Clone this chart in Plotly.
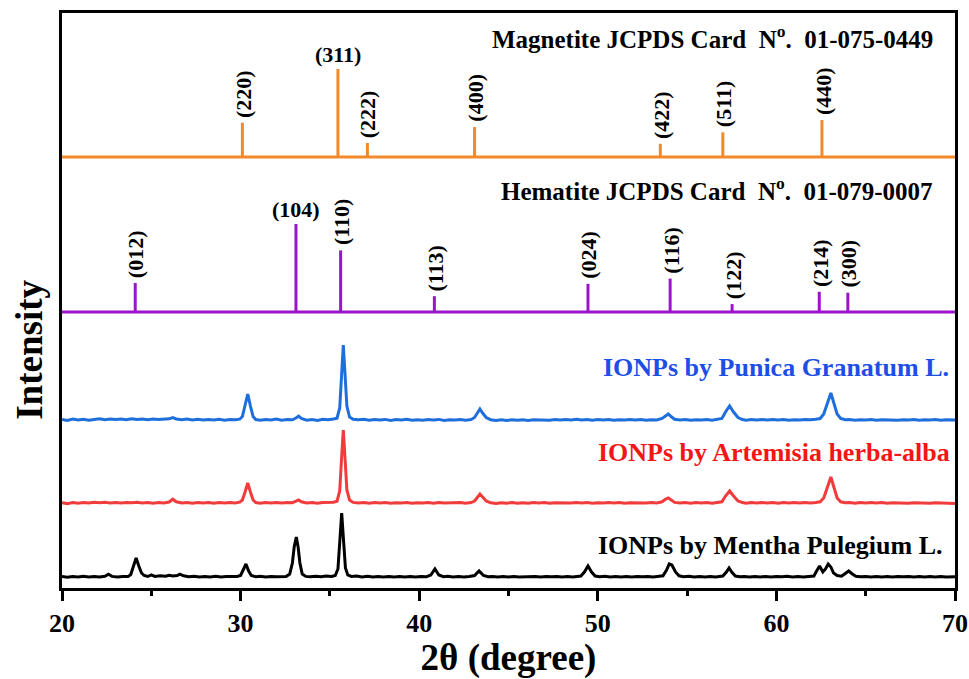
import plotly.graph_objects as go

# ---------------- data ----------------
# Reference cards (2-theta in degrees, relative intensity in %)
mag_2theta = [30.1, 35.45, 37.1, 43.1, 53.5, 57.0, 62.55]
mag_int = [39, 100, 16, 34, 15, 28, 42]
mag_hkl = ["(220)", "(311)", "(222)", "(400)", "(422)", "(511)", "(440)"]

hem_2theta = [24.1, 33.1, 35.6, 40.85, 49.45, 54.05, 57.52, 62.4, 64.0]
hem_int = [33, 100, 70, 18, 32, 38, 9, 23, 22]
hem_hkl = ["(012)", "(104)", "(110)", "(113)", "(024)", "(116)", "(122)", "(214)", "(300)"]

# Measured patterns (2-theta, intensity a.u. above each pattern's baseline)
punica_pts = [
    (20.0, 0.5), (20.3, -0.5), (20.6, 1.0), (20.9, 0.0), (21.2, 0.8), (21.5, -0.3), (21.8, 0.6),
    (22.1, 1.2), (22.4, 0.2), (22.7, 1.0), (23.0, 0.4), (23.3, 1.1), (23.6, 0.3), (23.9, 1.3),
    (24.2, 0.5), (24.5, 0.9), (24.8, 0.2), (25.1, 1.0), (25.4, 0.4), (25.7, 0.8), (26.0, 1.2),
    (26.2, 2.4), (26.4, 1.0), (26.7, 0.3), (27.0, 0.9), (27.3, 0.1), (27.6, 0.7), (27.9, 0.0),
    (28.2, 0.6), (28.5, 0.1), (28.8, 0.8), (29.1, -0.2), (29.4, 0.5), (29.7, 0.2), (29.95, 0.8),
    (30.1, 3.5), (30.25, 14), (30.4, 26), (30.55, 14), (30.7, 3.5), (30.85, 0.5), (31.1, -0.3),
    (31.4, 0.6), (31.7, 0.0), (32.0, 0.9), (32.3, -0.2), (32.6, 0.5), (32.9, 0.2), (33.1, 2.0),
    (33.25, 3.8), (33.4, 1.5), (33.7, -0.2), (34.0, 0.4), (34.3, -0.4), (34.6, 0.8), (34.9, 0.2),
    (35.2, 1.0), (35.4, 1.8), (35.55, 12), (35.65, 45), (35.75, 75), (35.85, 45), (35.95, 14),
    (36.1, 3.0), (36.3, 0.8), (36.6, 0.2), (36.9, 0.7), (37.2, -0.3), (37.5, 0.5), (37.8, 0.0),
    (38.1, 0.6), (38.4, -0.5), (38.7, 0.4), (39.0, 0.0), (39.3, 0.7), (39.6, -0.3), (39.9, 0.3),
    (40.2, -0.2), (40.5, 0.5), (40.8, 0.0), (41.1, 0.6), (41.4, -0.4), (41.7, 0.3), (42.0, -0.1),
    (42.3, 0.4), (42.6, -0.2), (42.9, 0.5), (43.1, 2.5), (43.25, 7), (43.4, 11), (43.55, 7),
    (43.75, 2.5), (44.0, 0.3), (44.3, -0.5), (44.6, 0.2), (44.9, -0.4), (45.2, 0.3), (45.5, -0.3),
    (45.8, 0.2), (46.1, -0.4), (46.4, 0.3), (46.7, 0.1), (47.0, 0.5), (47.3, -0.2), (47.6, 0.4),
    (47.9, 0.0), (48.2, 0.6), (48.5, 0.1), (48.8, 0.7), (49.1, 0.0), (49.4, 0.5), (49.7, -0.3),
    (50.0, 0.4), (50.3, 0.0), (50.6, 0.6), (50.9, -0.2), (51.2, 0.3), (51.5, -0.1), (51.8, 0.5),
    (52.1, 0.0), (52.4, 0.4), (52.7, -0.2), (53.0, 0.3), (53.3, 0.0), (53.6, 1.5), (53.8, 4.5),
    (53.95, 6), (54.1, 3.5), (54.3, 0.8), (54.6, 0.0), (54.9, 0.5), (55.2, -0.3), (55.5, 0.3),
    (55.8, 0.0), (56.1, 0.5), (56.4, -0.2), (56.7, 0.6), (56.95, 1.5), (57.15, 8), (57.38, 14),
    (57.6, 8), (57.85, 2.5), (58.1, 0.5), (58.3, -0.2), (58.6, 0.4), (58.9, 0.0), (59.2, 0.6),
    (59.5, -0.1), (59.8, 0.5), (60.1, 0.0), (60.4, 0.4), (60.7, -0.3), (61.0, 0.3), (61.3, 0.0),
    (61.6, 0.5), (61.9, 0.2), (62.2, 0.8), (62.45, 1.5), (62.65, 6), (62.88, 18), (63.05, 27),
    (63.2, 18), (63.4, 6), (63.6, 1.5), (63.85, 0.2), (64.1, 0.5), (64.4, -0.3), (64.7, 0.3),
    (65.0, 0.0), (65.3, 0.5), (65.6, -0.2), (65.9, 0.3), (66.2, 0.0), (66.5, 0.4), (66.8, -0.3),
    (67.1, 0.3), (67.4, 0.0), (67.7, 0.5), (68.0, -0.2), (68.3, 0.3), (68.6, -0.1), (68.9, 0.4),
    (69.2, -0.3), (69.5, 0.2), (69.8, -0.2), (70.0, 0.1),
]

artemisia_pts = [
    (20.0, 0.3), (20.3, -0.6), (20.6, 0.5), (20.9, -0.2), (21.2, 0.6), (21.5, 0.0), (21.8, 0.7),
    (22.1, 0.2), (22.4, 0.8), (22.7, 0.1), (23.0, 0.6), (23.3, 0.0), (23.6, 0.5), (23.9, 0.2),
    (24.2, 0.7), (24.5, 0.0), (24.8, 0.5), (25.1, -0.2), (25.4, 0.4), (25.7, 0.1), (26.0, 1.0),
    (26.2, 3.8), (26.4, 1.2), (26.7, 0.0), (27.0, 0.5), (27.3, -0.3), (27.6, 0.4), (27.9, 0.0),
    (28.2, 0.6), (28.5, -0.2), (28.8, 0.4), (29.1, 0.0), (29.4, 0.5), (29.7, 0.1), (29.95, 0.8),
    (30.1, 3.0), (30.25, 11), (30.4, 20), (30.55, 11), (30.7, 3.0), (30.85, 0.4), (31.1, -0.3),
    (31.4, 0.5), (31.7, -0.1), (32.0, 0.4), (32.3, 0.0), (32.6, 0.5), (32.9, 0.3), (33.1, 1.8),
    (33.25, 3.0), (33.4, 1.2), (33.7, 0.0), (34.0, 0.4), (34.3, -0.3), (34.6, 0.5), (34.9, 0.3),
    (35.2, 0.8), (35.4, 1.8), (35.55, 12), (35.65, 44), (35.75, 73), (35.85, 44), (35.95, 13),
    (36.1, 3.0), (36.3, 0.6), (36.6, 0.0), (36.9, 0.5), (37.2, -0.2), (37.5, 0.4), (37.8, -0.1),
    (38.1, 0.5), (38.4, -0.3), (38.7, 0.3), (39.0, 0.0), (39.3, 0.5), (39.6, -0.2), (39.9, 0.3),
    (40.2, 0.0), (40.5, 0.5), (40.8, -0.2), (41.1, 0.4), (41.4, -0.1), (41.7, 0.3), (42.0, 0.0),
    (42.3, 0.5), (42.6, -0.2), (42.9, 0.4), (43.1, 2.0), (43.25, 6), (43.4, 9), (43.55, 6),
    (43.75, 2.0), (44.0, 0.2), (44.3, -0.4), (44.6, 0.3), (44.9, -0.2), (45.2, 0.4), (45.5, -0.3),
    (45.8, 0.3), (46.1, -0.2), (46.4, 0.4), (46.7, 0.0), (47.0, 0.4), (47.3, -0.3), (47.6, 0.3),
    (47.9, 0.1), (48.2, 0.5), (48.5, -0.1), (48.8, 0.5), (49.1, 0.0), (49.4, 0.4), (49.7, -0.2),
    (50.0, 0.3), (50.3, -0.1), (50.6, 0.5), (50.9, 0.0), (51.2, 0.4), (51.5, -0.2), (51.8, 0.3),
    (52.1, 0.1), (52.4, 0.5), (52.7, -0.1), (53.0, 0.4), (53.3, 0.1), (53.6, 1.2), (53.8, 4.0),
    (53.95, 5), (54.1, 3.0), (54.3, 0.6), (54.6, -0.1), (54.9, 0.4), (55.2, -0.2), (55.5, 0.4),
    (55.8, 0.0), (56.1, 0.4), (56.4, -0.3), (56.7, 0.5), (56.95, 1.2), (57.15, 7), (57.38, 12),
    (57.6, 7), (57.85, 2.0), (58.1, 0.4), (58.3, -0.2), (58.6, 0.4), (58.9, -0.1), (59.2, 0.5),
    (59.5, 0.0), (59.8, 0.4), (60.1, -0.2), (60.4, 0.4), (60.7, 0.0), (61.0, 0.5), (61.3, -0.1),
    (61.6, 0.4), (61.9, 0.1), (62.2, 0.6), (62.45, 1.2), (62.65, 5), (62.88, 17), (63.05, 26),
    (63.2, 17), (63.4, 5), (63.6, 1.2), (63.85, 0.2), (64.1, 0.4), (64.4, -0.3), (64.7, 0.4),
    (65.0, -0.1), (65.3, 0.4), (65.6, 0.0), (65.9, 0.5), (66.2, -0.2), (66.5, 0.3), (66.8, 0.0),
    (67.1, 0.4), (67.4, -0.2), (67.7, 0.3), (68.0, 0.0), (68.3, 0.4), (68.6, -0.3), (68.9, 0.3),
    (69.2, 0.0), (69.5, 0.4), (69.8, -0.6), (70.0, -0.4),
]

mentha_pts = [
    (20.0, 0.4), (20.3, -0.3), (20.6, 0.6), (20.9, 0.0), (21.2, 0.7), (21.5, 0.1), (21.8, 0.5),
    (22.1, 0.0), (22.4, 0.8), (22.6, 2.8), (22.8, 0.6), (23.1, 0.0), (23.4, 0.6), (23.7, 0.4),
    (23.85, 2.5), (24.0, 10), (24.15, 19), (24.3, 11), (24.45, 4), (24.6, 1.5), (24.8, 0.5),
    (25.0, 2.2), (25.2, 0.6), (25.5, 1.2), (25.8, 0.8), (26.0, 1.8), (26.2, 1.0), (26.45, 1.4),
    (26.6, 2.8), (26.8, 1.2), (27.1, 0.3), (27.4, 0.8), (27.7, 0.0), (28.0, 0.6), (28.3, 0.1),
    (28.6, 0.7), (28.9, 0.0), (29.2, 0.5), (29.5, 0.2), (29.8, 0.6), (30.0, 1.5), (30.15, 7),
    (30.3, 13), (30.45, 6), (30.6, 1.5), (30.85, 0.3), (31.1, 0.8), (31.4, 0.0), (31.7, 0.6),
    (32.0, 0.3), (32.3, 0.8), (32.55, 0.5), (32.75, 3), (32.9, 14), (33.0, 30), (33.12, 40),
    (33.22, 30), (33.32, 14), (33.45, 3), (33.65, 0.6), (33.9, 0.2), (34.2, 0.8), (34.5, 0.3),
    (34.8, 0.9), (35.1, 0.5), (35.3, 1.5), (35.45, 8), (35.55, 35), (35.66, 64), (35.77, 35),
    (35.87, 9), (36.0, 2.0), (36.2, 0.5), (36.5, 0.9), (36.8, 0.1), (37.1, 0.7), (37.4, 0.0),
    (37.7, 0.5), (38.0, 0.1), (38.3, 0.6), (38.6, 0.0), (38.9, 0.5), (39.2, 0.1), (39.5, 0.6),
    (39.8, 0.0), (40.1, 0.5), (40.4, 0.2), (40.65, 2.0), (40.88, 8), (41.1, 2.0), (41.35, 0.3),
    (41.6, 0.7), (41.9, 0.0), (42.2, 0.6), (42.5, 0.1), (42.8, 0.6), (43.1, 1.5), (43.35, 6),
    (43.6, 1.5), (43.85, 0.2), (44.1, 0.6), (44.4, 0.0), (44.7, 0.5), (45.0, 0.1), (45.3, 0.6),
    (45.6, 0.0), (45.9, 0.4), (46.2, 0.1), (46.5, 0.6), (46.8, 0.0), (47.1, 0.5), (47.4, 0.2),
    (47.7, 0.6), (48.0, 0.0), (48.3, 0.5), (48.6, 0.1), (48.85, 0.6), (49.05, 1.0), (49.25, 5),
    (49.45, 11), (49.65, 5), (49.85, 1.0), (50.1, 0.3), (50.4, 0.7), (50.7, 0.0), (51.0, 0.5),
    (51.3, 0.1), (51.6, 0.6), (51.9, 0.0), (52.2, 0.5), (52.5, 0.2), (52.8, 0.6), (53.1, 0.0),
    (53.4, 0.5), (53.65, 1.2), (53.85, 7), (54.0, 13), (54.15, 12), (54.35, 5), (54.55, 1.2),
    (54.8, 0.3), (55.1, 0.7), (55.4, 0.0), (55.7, 0.5), (56.0, 0.1), (56.3, 0.6), (56.6, 0.0),
    (56.8, 0.5), (57.0, 1.0), (57.2, 5), (57.35, 9), (57.5, 5), (57.7, 1.0), (57.95, 0.2),
    (58.2, 0.6), (58.5, 0.0), (58.8, 0.5), (59.1, 0.1), (59.4, 0.6), (59.7, 0.0), (60.0, 0.5),
    (60.3, 0.2), (60.6, 0.7), (60.9, 0.0), (61.2, 0.5), (61.5, 0.1), (61.8, 0.7), (62.1, 1.0),
    (62.25, 6), (62.42, 11), (62.6, 5), (62.75, 8), (62.9, 13), (63.05, 10), (63.2, 4),
    (63.4, 1.5), (63.65, 0.8), (63.85, 3), (64.05, 6), (64.25, 3), (64.45, 0.8), (64.7, 0.2),
    (65.0, 0.6), (65.3, 0.0), (65.6, 0.5), (65.9, 0.1), (66.2, 0.6), (66.5, 0.0), (66.8, 0.5),
    (67.1, 0.2), (67.4, 0.6), (67.7, 0.0), (68.0, 0.5), (68.3, 0.1), (68.6, 0.6), (68.9, 0.0),
    (69.2, 0.5), (69.5, 0.1), (69.8, 0.6), (70.0, 0.2),
]

series_names = ["IONPs by Punica Granatum L.", "IONPs by Artemisia herba-alba", "IONPs by Mentha Pulegium L."]
mag_title = "Magnetite JCPDS Card\u00a0\u00a0N<sup>o</sup>.\u00a0\u00a001-075-0449"
hem_title = "Hematite JCPDS Card\u00a0\u00a0N<sup>o</sup>.\u00a0\u00a001-079-0007"
x_ticks = [20, 30, 40, 50, 60, 70]

# ---------------- styling / stacking ----------------
FONT = "Liberation Serif, Times New Roman, serif"
ORANGE = "#F28A2C"
PURPLE = "#9B14CC"
BLUE_LINE = "#1E6FDC"
RED_LINE = "#F03C3C"
BLUE_TXT = "#1D4FE6"
RED_TXT = "#F41616"

MAG_BASE = 431
HEM_BASE = 276
STICK_SCALE = 0.88
OFFSETS = [168, 85, 11]

fig = go.Figure()


def stick_trace(xs, ints, base, color):
    px, py = [20, 70, None], [base, base, None]
    for x, h in zip(xs, ints):
        px += [x, x, None]
        py += [base, base + h * STICK_SCALE, None]
    return go.Scatter(x=px, y=py, mode="lines", line=dict(color=color, width=3),
                      hoverinfo="skip", showlegend=False)


fig.add_trace(stick_trace(mag_2theta, mag_int, MAG_BASE, ORANGE))
fig.add_trace(stick_trace(hem_2theta, hem_int, HEM_BASE, PURPLE))

for pts, off, col, name in zip([punica_pts, artemisia_pts, mentha_pts], OFFSETS,
                                [BLUE_LINE, RED_LINE, "#000000"], series_names):
    fig.add_trace(go.Scatter(x=[p[0] for p in pts], y=[p[1] + off for p in pts],
                             mode="lines", line=dict(color=col, width=3),
                             name=name, showlegend=False))

annotations = []


def hkl_labels(xs, ints, labels, base):
    for x, h, lab in zip(xs, ints, labels):
        top = base + h * STICK_SCALE
        if h >= 100:
            annotations.append(dict(x=x, y=top, text="<b>%s</b>" % lab, showarrow=False,
                                    xanchor="center", yanchor="bottom", yshift=0,
                                    font=dict(family=FONT, size=22, color="black")))
        else:
            annotations.append(dict(x=x, y=top, text="<b>%s</b>" % lab, showarrow=False,
                                    textangle=-90, xanchor="center", yanchor="bottom",
                                    yshift=3, xshift=1,
                                    font=dict(family=FONT, size=22, color="black")))


hkl_labels(mag_2theta, mag_int, mag_hkl, MAG_BASE)
hkl_labels(hem_2theta, hem_int, hem_hkl, HEM_BASE)

annotations += [
    dict(x=68.9, y=551, text="<b>%s</b>" % mag_title, showarrow=False, xanchor="right",
         yanchor="middle", font=dict(family=FONT, size=25, color="black")),
    dict(x=68.9, y=399, text="<b>%s</b>" % hem_title, showarrow=False, xanchor="right",
         yanchor="middle", font=dict(family=FONT, size=25, color="black")),
    dict(x=69.75, y=221, text="<b>%s</b>" % series_names[0], showarrow=False, xanchor="right",
         yanchor="middle", font=dict(family=FONT, size=26, color=BLUE_TXT)),
    dict(x=69.85, y=136, text="<b>%s</b>" % series_names[1], showarrow=False, xanchor="right",
         yanchor="middle", font=dict(family=FONT, size=26, color=RED_TXT)),
    dict(x=69.45, y=43, text="<b>%s</b>" % series_names[2], showarrow=False, xanchor="right",
         yanchor="middle", font=dict(family=FONT, size=26, color="black")),
    dict(x=-0.036, y=0.414, xref="paper", yref="paper", text="<b>Intensity</b>",
         showarrow=False, textangle=-90, xanchor="center", yanchor="middle",
         font=dict(family=FONT, size=37, color="black")),
]

fig.update_layout(
    width=969, height=679,
    margin=dict(l=62, r=14, t=13, b=91, autoexpand=False),
    paper_bgcolor="white", plot_bgcolor="white",
    showlegend=False,
    annotations=annotations,
    xaxis=dict(range=[20, 70], tickvals=x_ticks, ticktext=["<b>%d</b>" % v for v in x_ticks],
               ticks="outside", ticklen=10, tickwidth=3, tickcolor="black",
               minor=dict(dtick=5, tick0=20, ticks="outside", ticklen=5, tickwidth=3, tickcolor="black"),
               showline=True, linewidth=3, linecolor="black", mirror=True,
               showgrid=False, zeroline=False, automargin=False,
               tickfont=dict(family=FONT, size=26, color="black"),
               title=dict(text="<b>2θ (degree)</b>", font=dict(family=FONT, size=37, color="black"),
                          standoff=2)),
    yaxis=dict(range=[0, 575], showticklabels=False, ticks="", showline=True, linewidth=3,
               linecolor="black", mirror=True, showgrid=False, zeroline=False, automargin=False),
)

# remove the browser's default 8px page margin so the figure fills the window exactly
fig.write_html("out.html", config={"displayModeBar": False},
               post_script="document.body.style.margin='0';document.body.style.overflow='hidden';")
